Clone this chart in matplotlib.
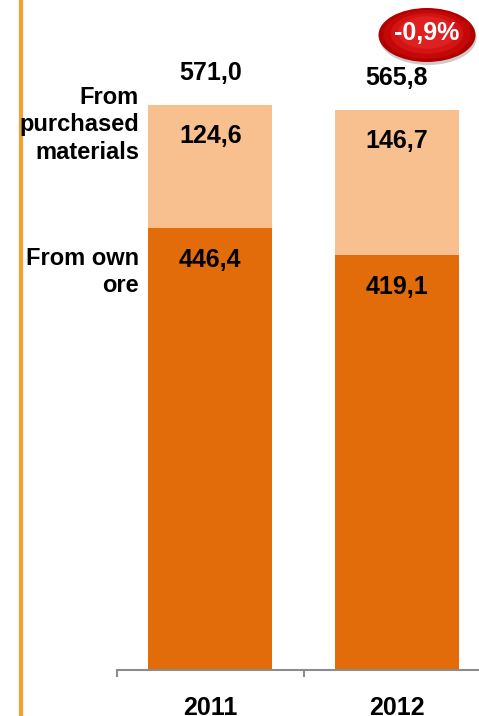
import numpy as np
import matplotlib.pyplot as plt
from matplotlib.patches import Ellipse
from matplotlib.lines import Line2D

plt.rcParams['font.family'] = ['Liberation Sans', 'DejaVu Sans']
plt.rcParams['font.weight'] = 'bold'

years = ['2011', '2012']
own_ore = [446.4, 419.1]
purchased = [124.6, 146.7]
totals = ['571,0', '565,8']
own_labels = ['446,4', '419,1']
purch_labels = ['124,6', '146,7']
change = '-0,9%'
series_names = ['From own\nore', 'From\npurchased\nmaterials']

dark = '#e36c0a'
light = '#f9c08f'
num_fs = 18

W, H = 479, 716
fig = plt.figure(figsize=(W / 100, H / 100), dpi=100)

# axes placed so the baseline sits at y=670 px and categories are ~186 px apart
px_per_unit = 565 / 571.0
ax = fig.add_axes([117 / W, 46 / H, 1 - 117 / W, 670 / H])

x = np.arange(len(years))
bw = 124 / 186.5
ax.bar(x, own_ore, width=bw, color=dark, zorder=2)
ax.bar(x, purchased, width=bw, bottom=own_ore, color=light, zorder=2)

for i in range(len(years)):
    top = own_ore[i] + purchased[i]
    ax.annotate(totals[i], xy=(x[i], top), xytext=(0, 32), textcoords='offset pixels',
                ha='center', va='center', fontsize=num_fs, fontweight='bold')
    ax.annotate(purch_labels[i], xy=(x[i], top), xytext=(0, -31), textcoords='offset pixels',
                ha='center', va='center', fontsize=num_fs, fontweight='bold')
    ax.annotate(own_labels[i], xy=(x[i], own_ore[i]), xytext=(0, -32), textcoords='offset pixels',
                ha='center', va='center', fontsize=num_fs, fontweight='bold')

for s in ['top', 'right', 'left']:
    ax.spines[s].set_visible(False)
ax.spines['bottom'].set_color('#8c8c8c')
ax.spines['bottom'].set_linewidth(1.5)
ax.set_yticks([])
ax.set_xticks(x)
ax.set_xticklabels(years, fontsize=num_fs, fontweight='bold')
ax.tick_params(axis='x', which='major', length=0, pad=19)
ax.set_xticks([-0.5, 0.5, 1.5], minor=True)
ax.tick_params(axis='x', which='minor', length=5, width=1.5, color='#8c8c8c', direction='out')
# limits after the ticks, otherwise set_xticks widens them
ax.set_xlim(-0.5, -0.5 + 362 / 186.5)
ax.set_ylim(0, 670 / px_per_unit)

# series names on the left
fig.text(139 / W, 1 - 125 / H, series_names[1], ha='right', va='center',
         multialignment='right', fontsize=17, fontweight='bold', linespacing=1.23)
fig.text(139 / W, 1 - 272 / H, series_names[0], ha='right', va='center',
         multialignment='right', fontsize=17, fontweight='bold', linespacing=1.23)

# orange vertical rule
fig.add_artist(Line2D([21 / W, 21 / W], [0, 1], color='#f2a22e', linewidth=3, transform=fig.transFigure))

# red badge with the change
cx, cy = 427 / W, 1 - 35 / H
ew, eh = 97 / W, 54 / H
fig.add_artist(Ellipse((cx + 1 / W, cy - 3 / H), ew, eh, transform=fig.transFigure,
                       facecolor='#9a9a9a', alpha=0.5, edgecolor='none'))
fig.add_artist(Ellipse((cx, cy), ew, eh, transform=fig.transFigure,
                       facecolor='#b00000', edgecolor='none'))
for k, c in zip([0.9, 0.75, 0.6], ['#c40808', '#d31414', '#de2020']):
    fig.add_artist(Ellipse((cx, cy + (1 - k) * 6 / H), ew * k, eh * k, transform=fig.transFigure,
                           facecolor=c, edgecolor='none'))
fig.text(cx, cy + 2 / H, change, ha='center', va='center', color='white',
         fontsize=num_fs, fontweight='bold')

fig.savefig('out.png', dpi=100)
